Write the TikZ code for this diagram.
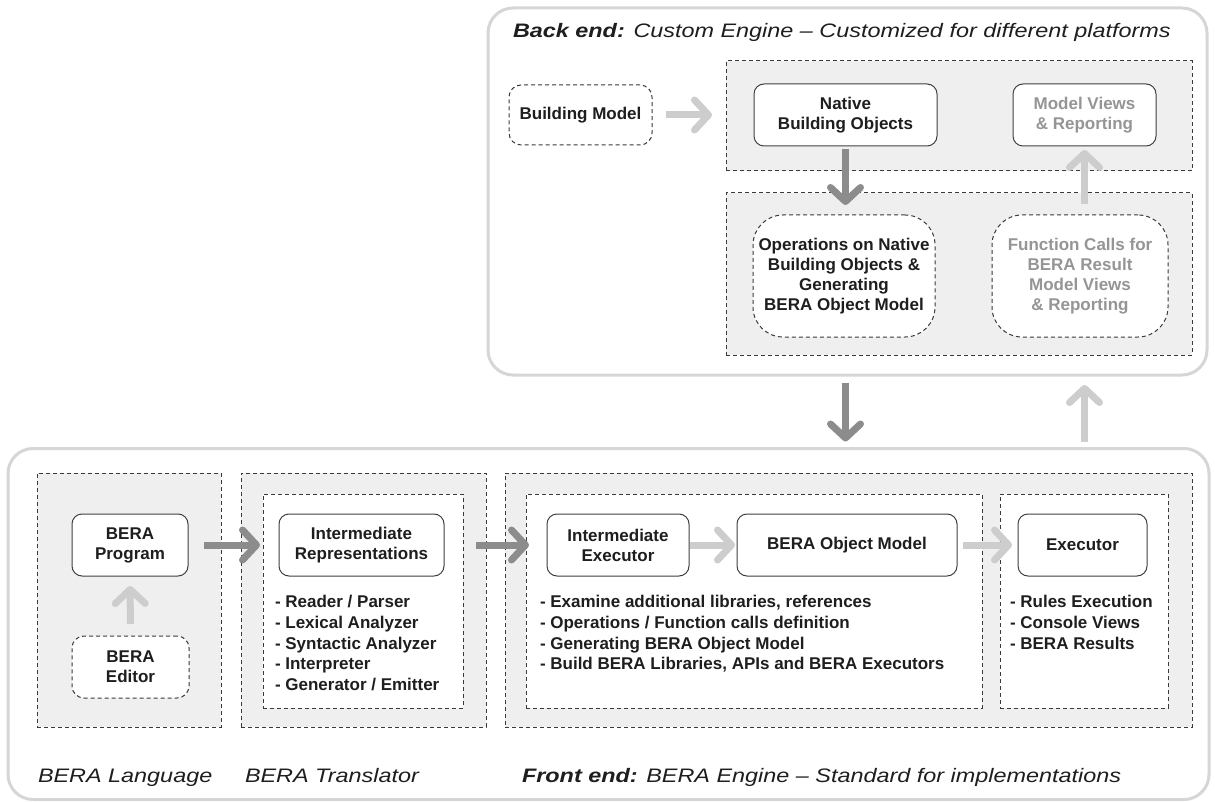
\documentclass[tikz,border=0pt]{standalone}
\usepackage{fontspec}
\setmainfont{Liberation Sans}
\newfontfamily\titlefont[FakeStretch=1.2]{Liberation Sans}
\usetikzlibrary{arrows.meta}
\definecolor{regfill}{HTML}{EFEFEF}
\definecolor{outerc}{HTML}{D6D6D6}
\definecolor{dashc}{HTML}{3A3A3A}
\definecolor{boxc}{HTML}{404040}
\definecolor{darkc}{HTML}{8C8C8C}
\definecolor{lightc}{HTML}{CDCDCD}
\definecolor{graytext}{HTML}{959595}
\definecolor{textc}{HTML}{1E1E1E}
\newcommand\labfont{\fontsize{17}{20}\selectfont\bfseries}
\newcommand\listfont{\fontsize{17}{20.6}\selectfont\bfseries}
\newcommand\ttlfont{\titlefont\fontsize{19.5}{23}\selectfont\itshape}
\begin{document}
\begin{tikzpicture}[x=1pt,y=-1pt,
  every node/.style={inner sep=0pt, outer sep=0pt, text=textc},
  outerbox/.style={draw=outerc, line width=3pt, rounded corners=25pt, fill=white},
  region/.style={draw=dashc, line width=1pt, dash pattern=on 4pt off 3pt, fill=regfill},
  innerreg/.style={region, fill=white},
  solidbox/.style={draw=boxc, line width=1pt, rounded corners=10pt, fill=white, align=center, font=\labfont},
  dbox/.style={solidbox, draw=dashc, dash pattern=on 4pt off 3pt, rounded corners=12pt},
  bigdbox/.style={dbox, rounded corners=30pt},
  greytxt/.style={text=graytext},
  listtxt/.style={anchor=north west, align=left, font=\listfont},
  ttl/.style={anchor=base west, font=\ttlfont},
  darrow/.style={draw=darkc, line width=7pt, -{Straight Barb[length=14pt,width=30pt,round]}},
  larrow/.style={darrow, draw=lightc}
]
\useasboundingbox (0,0) rectangle (1215,802);

% ---------------- Back end ----------------
\node[outerbox, minimum width=719pt, minimum height=367pt] (back) at (847.5,191.5) {};
\node[ttl] (backttl) at (513,38) {\bfseries Back end:\mdseries{} Custom Engine – Customized for different platforms};

\node[region, minimum width=466pt, minimum height=110pt] (upreg) at (959,116) {};
\node[region, minimum width=466pt, minimum height=162pt] (lowreg) at (959,274) {};

\node[dbox, minimum width=143pt, minimum height=60pt] (bm) at (580.5,115) {Building Model};
\node[solidbox, minimum width=183pt, minimum height=62pt] (native) at (845.5,115) {Native\\Building Objects};
\node[solidbox, greytxt, minimum width=143pt, minimum height=62pt] (mv) at (1084.5,115) {Model Views\\\& Reporting};
\node[bigdbox, minimum width=182pt, minimum height=122pt] (ops) at (844,276) {Operations on Native\\Building Objects \&\\Generating\\BERA Object Model};
\node[bigdbox, greytxt, minimum width=176pt, minimum height=122pt] (fc) at (1080,276) {Function Calls for\\BERA Result\\Model Views\\\& Reporting};

\draw[larrow, shorten <=14pt, shorten >=14pt] (bm.east) -- (bm.east -| upreg.west);
\draw[darrow, shorten <=3pt, shorten >=10pt] (native.south) -- (native.south |- ops.north);
\draw[larrow, shorten <=11pt, shorten >=4pt] (mv.south |- fc.north) -- (mv.south);

% ---------------- Front end ----------------
\node[outerbox, minimum width=1201pt, minimum height=351pt] (front) at (608.5,624) {};

\draw[darrow, shorten <=8pt, shorten >=7pt] (back.south -| native.south) -- (front.north -| native.south);
\draw[larrow, shorten <=7pt, shorten >=10pt] (front.north -| mv.south) -- (back.south -| mv.south);

\node[region, minimum width=184pt, minimum height=254pt] (langreg) at (129,600) {};
\node[region, minimum width=245pt, minimum height=254pt] (transreg) at (363.5,600) {};
\node[innerreg, minimum width=200pt, minimum height=214pt] (transinner) at (363,601) {};
\node[region, minimum width=687pt, minimum height=254pt] (frontreg) at (848.5,600) {};
\node[innerreg, minimum width=456pt, minimum height=214pt] (fi1) at (754,601) {};
\node[innerreg, minimum width=168pt, minimum height=214pt] (fi2) at (1084,601) {};

\node[solidbox, minimum width=116pt, minimum height=62pt] (prog) at (130,545) {BERA\\Program};
\node[dbox, minimum width=117pt, minimum height=62pt] (editor) at (130.5,667) {BERA\\Editor};
\node[solidbox, minimum width=165pt, minimum height=62pt] (ir) at (361.5,545) {Intermediate\\Representations};
\node[solidbox, minimum width=142pt, minimum height=62pt] (ie) at (618,545) {Intermediate\\Executor};
\node[solidbox, minimum width=220pt, minimum height=62pt] (bom) at (847,545) {BERA Object Model};
\node[solidbox, minimum width=129pt, minimum height=62pt] (exe) at (1082.5,545) {Executor};

\node[listtxt] (list1) at (275,595.5) {- Reader / Parser\\- Lexical Analyzer\\- Syntactic Analyzer\\- Interpreter\\- Generator / Emitter};
\node[listtxt] (list2) at (540,595.5) {- Examine additional libraries, references\\- Operations / Function calls definition\\- Generating BERA Object Model\\- Build BERA Libraries, APIs and BERA Executors};
\node[listtxt] (list3) at (1010,595.5) {- Rules Execution\\- Console Views\\- BERA Results};

\draw[larrow, shorten <=12pt, shorten >=10pt] (editor.north) -- (prog.south);
\draw[darrow, shorten <=16pt, shorten >=3pt] (prog.east) -- (prog.east -| transinner.west);
\draw[darrow, shorten <=13pt, shorten >=-3pt] (ir.east -| transinner.east) -- (ir.east -| fi1.west);
\draw[larrow, shorten <=1pt, shorten >=2pt] (ie.east) -- (bom.west);
\draw[larrow, shorten <=6pt, shorten >=6pt] (bom.east) -- (exe.west);

\node[ttl] (langttl) at (38,782) {BERA Language};
\node[ttl] (transttl) at (245,782) {BERA Translator};
\node[ttl] (frontttl) at (522,782) {\bfseries Front end:\mdseries{} BERA Engine – Standard for implementations};
\end{tikzpicture}
\end{document}
